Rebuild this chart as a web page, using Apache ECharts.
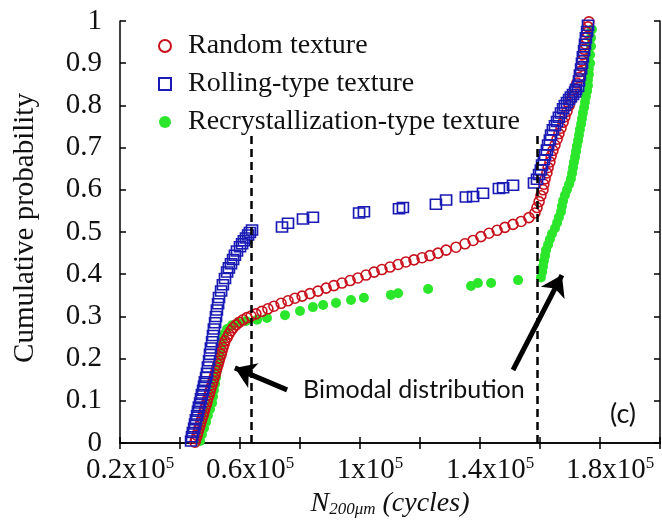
<!DOCTYPE html>
<html>
<head>
<meta charset="utf-8">
<script src="https://cdn.jsdelivr.net/npm/echarts@6/dist/echarts.min.js"></script>
<style>
  html, body { margin: 0; padding: 0; background: #fff; }
  #myChart { width: 662px; height: 521px; }
</style>
</head>
<body>
<div id="myChart"></div>
<script>
// x in units of 1e5 cycles, y = cumulative probability
const seriesNames = ['Random texture', 'Rolling-type texture', 'Recrystallization-type texture'];

const randomTexture = [
  [0.45,0.002],[0.453,0.01],[0.457,0.018],[0.46,0.026],[0.463,0.034],[0.467,0.042],[0.47,0.05],[0.473,0.058],
  [0.477,0.066],[0.48,0.074],[0.483,0.082],[0.487,0.09],[0.49,0.098],[0.493,0.106],[0.497,0.114],[0.5,0.122],
  [0.503,0.13],[0.507,0.138],[0.51,0.146],[0.513,0.154],[0.517,0.162],[0.52,0.17],[0.523,0.178],[0.527,0.186],
  [0.53,0.194],[0.533,0.202],[0.537,0.21],[0.54,0.218],[0.543,0.226],[0.547,0.234],[0.55,0.242],[0.557,0.25],
  [0.563,0.258],[0.57,0.266],[0.577,0.273],[0.587,0.28],[0.597,0.286],[0.61,0.292],[0.623,0.297],[0.637,0.301],
  [0.653,0.306],[0.673,0.312],[0.693,0.318],[0.713,0.324],[0.737,0.331],[0.76,0.337],[0.783,0.343],[0.807,0.348],
  [0.833,0.354],[0.86,0.36],[0.887,0.367],[0.913,0.373],[0.94,0.379],[0.967,0.385],[0.993,0.391],[1.02,0.398],
  [1.047,0.405],[1.073,0.411],[1.1,0.417],[1.127,0.423],[1.153,0.429],[1.18,0.434],[1.207,0.439],[1.233,0.444],
  [1.26,0.45],[1.287,0.457],[1.32,0.464],[1.35,0.472],[1.377,0.48],[1.403,0.489],[1.43,0.497],[1.457,0.504],
  [1.483,0.511],[1.51,0.518],[1.537,0.525],[1.563,0.534],[1.583,0.545],[1.59,0.558],[1.597,0.572],[1.603,0.586],
  [1.61,0.6],[1.613,0.613],[1.617,0.626],[1.623,0.64],[1.627,0.653],[1.633,0.666],[1.637,0.68],[1.643,0.693],
  [1.65,0.706],[1.657,0.72],[1.663,0.733],[1.67,0.746],[1.677,0.76],[1.683,0.773],[1.69,0.786],[1.697,0.8],
  [1.703,0.813],[1.71,0.826],[1.717,0.84],[1.723,0.853],[1.73,0.866],[1.733,0.88],[1.737,0.893],[1.74,0.906],
  [1.743,0.92],[1.747,0.933],[1.75,0.946],[1.753,0.96],[1.757,0.973],[1.76,0.986],[1.763,0.998]
];

const rollingTexture = [
  [0.437,0.005],[0.44,0.015],[0.443,0.025],[0.447,0.035],[0.45,0.045],[0.453,0.055],[0.457,0.065],[0.46,0.075],
  [0.463,0.085],[0.467,0.095],[0.47,0.105],[0.473,0.115],[0.477,0.125],[0.48,0.135],[0.483,0.145],[0.487,0.155],
  [0.49,0.165],[0.493,0.18],[0.497,0.195],[0.5,0.21],[0.503,0.225],[0.507,0.24],[0.51,0.255],[0.513,0.27],
  [0.517,0.285],[0.52,0.3],[0.523,0.315],[0.527,0.33],[0.53,0.345],[0.537,0.36],[0.543,0.375],[0.55,0.39],
  [0.557,0.405],[0.563,0.415],[0.57,0.425],[0.577,0.435],[0.583,0.445],[0.59,0.455],[0.6,0.465],[0.607,0.472],
  [0.613,0.479],[0.62,0.486],[0.627,0.493],[0.633,0.499],[0.64,0.505],
  [0.74,0.512],[0.76,0.521],[0.81,0.531],[0.843,0.535],[0.997,0.545],[1.013,0.548],[1.13,0.555],[1.143,0.558],
  [1.253,0.566],[1.287,0.576],[1.353,0.583],[1.377,0.584],[1.41,0.592],[1.463,0.603],[1.477,0.605],[1.51,0.611],
  [1.58,0.616],
  [1.59,0.625],[1.597,0.636],[1.603,0.647],[1.607,0.659],[1.613,0.671],[1.617,0.683],[1.623,0.694],[1.627,0.706],
  [1.633,0.718],[1.637,0.73],[1.643,0.742],[1.65,0.752],[1.657,0.762],[1.663,0.772],[1.67,0.782],[1.677,0.792],
  [1.683,0.8],[1.69,0.807],[1.697,0.814],[1.703,0.82],[1.71,0.826],[1.717,0.832],[1.72,0.838],[1.727,0.845],
  [1.73,0.858],[1.733,0.872],[1.737,0.886],[1.74,0.9],[1.743,0.915],[1.747,0.93],[1.75,0.945],[1.753,0.96],
  [1.757,0.975],[1.76,0.99]
];

const recrystallizationTexture = [
  [0.467,0.005],[0.473,0.02],[0.48,0.035],[0.487,0.05],[0.493,0.065],[0.5,0.08],[0.507,0.095],[0.51,0.11],
  [0.513,0.125],[0.517,0.14],[0.52,0.155],[0.523,0.17],[0.527,0.185],[0.53,0.2],[0.533,0.215],[0.537,0.23],
  [0.54,0.245],[0.547,0.258],[0.557,0.27],[0.573,0.279],[0.593,0.285],[0.62,0.289],[0.657,0.292],[0.69,0.296],
  [0.75,0.303],[0.8,0.313],[0.843,0.322],[0.877,0.327],[0.92,0.332],[0.97,0.339],[1.013,0.344],[1.103,0.351],
  [1.127,0.355],[1.227,0.365],[1.37,0.372],[1.393,0.379],[1.437,0.379],[1.527,0.386],
  [1.603,0.392],[1.607,0.405],[1.61,0.418],[1.613,0.431],[1.617,0.444],[1.62,0.457],[1.627,0.47],[1.633,0.483],
  [1.64,0.496],[1.65,0.509],[1.657,0.522],[1.663,0.535],[1.67,0.548],[1.673,0.561],[1.677,0.574],[1.683,0.587],
  [1.69,0.6],[1.697,0.613],[1.703,0.626],[1.707,0.639],[1.71,0.652],[1.713,0.665],[1.717,0.678],[1.72,0.691],
  [1.723,0.704],[1.727,0.717],[1.73,0.73],[1.733,0.743],[1.737,0.756],[1.74,0.769],[1.743,0.782],[1.747,0.795],
  [1.75,0.808],[1.753,0.821],[1.757,0.834],[1.76,0.847],[1.76,0.86],[1.763,0.873],[1.763,0.886],[1.767,0.9],
  [1.767,0.92],[1.77,0.94],[1.77,0.96],[1.773,0.98]
];

// axis ticks
const xTicks = [0.2, 0.6, 1.0, 1.4, 1.8];
const xLabels = ['0.2x10', '0.6x10', '1x10', '1.4x10', '1.8x10'];

// vertical dashed guides: [x, top y]
const dashGuides = [[0.637, 0.73], [1.59, 0.735]];
// arrows: [fromX, fromY, toX, toY]
const arrows = [[0.757, 0.126, 0.583, 0.178], [1.51, 0.173, 1.673, 0.398]];

const serif = 'Liberation Serif';

let myChart = echarts.init(document.getElementById('myChart'));

const axisLineStyle = { color: '#000', width: 1.5 };

myChart.setOption({
  animation: false,
  grid: { left: 120, right: 2, top: 21, bottom: 78, containLabel: false, outerBoundsMode: 'none' },
  legend: {
    orient: 'vertical',
    left: 153,
    top: 27,
    itemWidth: 12,
    itemHeight: 12,
    itemGap: 10,
    data: seriesNames,
    textStyle: { fontFamily: serif, fontSize: 28, lineHeight: 28, color: '#111', padding: [0, 0, 0, 12] }
  },
  xAxis: [
    {
      type: 'value', min: 0.2, max: 2.0, interval: 0.2, position: 'bottom',
      axisLine: { lineStyle: axisLineStyle },
      axisTick: { inside: true, length: 6, lineStyle: axisLineStyle },
      splitLine: { show: false },
      axisLabel: {
        margin: 12,
        padding: [0, 0, 0, 20],
        formatter: function (v) {
          let i = xTicks.findIndex(t => Math.abs(t - v) < 1e-6);
          return i < 0 ? '' : '{b|' + xLabels[i] + '}{sup|5}';
        },
        rich: {
          b: { fontFamily: serif, fontSize: 29, color: '#111', lineHeight: 30 },
          sup: { fontFamily: serif, fontSize: 17, color: '#111', lineHeight: 30, verticalAlign: 'top', padding: [0, 0, 8, 0] }
        }
      },
      name: '{i|N}{sub|200μm}{i| (cycles)}',
      nameLocation: 'middle',
      nameGap: 45,
      nameTextStyle: {
        rich: {
          i: { fontFamily: serif, fontStyle: 'italic', fontSize: 28, color: '#111', lineHeight: 30 },
          sub: { fontFamily: serif, fontStyle: 'italic', fontSize: 17, color: '#111', lineHeight: 30, verticalAlign: 'bottom', padding: [6, 0, 0, 0] }
        }
      }
    },
    {
      type: 'value', min: 0.2, max: 2.0, interval: 0.2, position: 'top',
      axisLine: { lineStyle: axisLineStyle },
      axisTick: { inside: true, length: 6, lineStyle: axisLineStyle },
      axisLabel: { show: false },
      splitLine: { show: false }
    }
  ],
  yAxis: [
    {
      type: 'value', min: 0, max: 1, interval: 0.1, position: 'left',
      axisLine: { lineStyle: axisLineStyle },
      axisTick: { inside: true, length: 6, lineStyle: axisLineStyle },
      splitLine: { show: false },
      axisLabel: {
        margin: 18,
        fontFamily: serif, fontSize: 29, color: '#111',
        padding: [0, 0, 6, 0],
        formatter: function (v) {
          if (v === 0) return '0';
          if (Math.abs(v - 1) < 1e-6) return '1';
          return v.toFixed(1);
        }
      }
    },
    {
      type: 'value', min: 0, max: 1, interval: 0.1, position: 'right',
      axisLine: { lineStyle: axisLineStyle },
      axisTick: { inside: true, length: 6, lineStyle: axisLineStyle },
      axisLabel: { show: false },
      splitLine: { show: false }
    }
  ],
  series: [
    {
      name: seriesNames[2],
      type: 'scatter',
      symbol: 'circle',
      symbolSize: 10,
      itemStyle: { color: '#2be62b', opacity: 1 },
      data: recrystallizationTexture
    },
    {
      name: seriesNames[0],
      type: 'scatter',
      symbol: 'circle',
      symbolSize: 10,
      itemStyle: { color: 'rgba(255,255,255,0)', borderColor: '#c8101c', borderWidth: 1.6, opacity: 1 },
      data: randomTexture
    },
    {
      name: seriesNames[1],
      type: 'scatter',
      symbol: 'rect',
      symbolSize: [11, 10],
      itemStyle: { color: 'rgba(255,255,255,0)', borderColor: '#1a1ab4', borderWidth: 1.6, opacity: 1 },
      data: rollingTexture
    },
    {
      name: 'guides',
      type: 'scatter',
      data: [],
      silent: true,
      z: 5,
      markLine: {
        silent: true,
        symbol: ['none', 'none'],
        label: { show: false },
        lineStyle: { color: '#000', width: 2.5, type: [8, 5] },
        data: dashGuides.map(d => [{ coord: [d[0], 0] }, { coord: [d[0], d[1]] }])
      }
    },
    {
      name: 'arrows',
      type: 'scatter',
      data: [],
      silent: true,
      z: 6,
      markLine: {
        silent: true,
        symbol: ['none', 'arrow'],
        symbolSize: 20,
        label: { show: false },
        lineStyle: { color: '#000', width: 5, type: 'solid' },
        data: arrows.map(a => [{ coord: [a[0], a[1]] }, { coord: [a[2], a[3]] }])
      }
    }
  ],
  graphic: [
    {
      type: 'text', x: 25, y: 228, rotation: Math.PI / 2,
      style: { text: 'Cumulative probability', font: 'normal 29px "Times New Roman", "Liberation Serif", serif', fill: '#111', align: 'center', verticalAlign: 'middle' }
    },
    { type: 'text', left: 303, top: 377, style: { text: 'Bimodal distribution', fontFamily: 'Lato', fontSize: 25, fill: '#111' } },
    { type: 'text', left: 610, top: 401, style: { text: '(c)', fontFamily: 'Lato', fontSize: 27, fill: '#111' } }
  ]
});
</script>
</body>
</html>
